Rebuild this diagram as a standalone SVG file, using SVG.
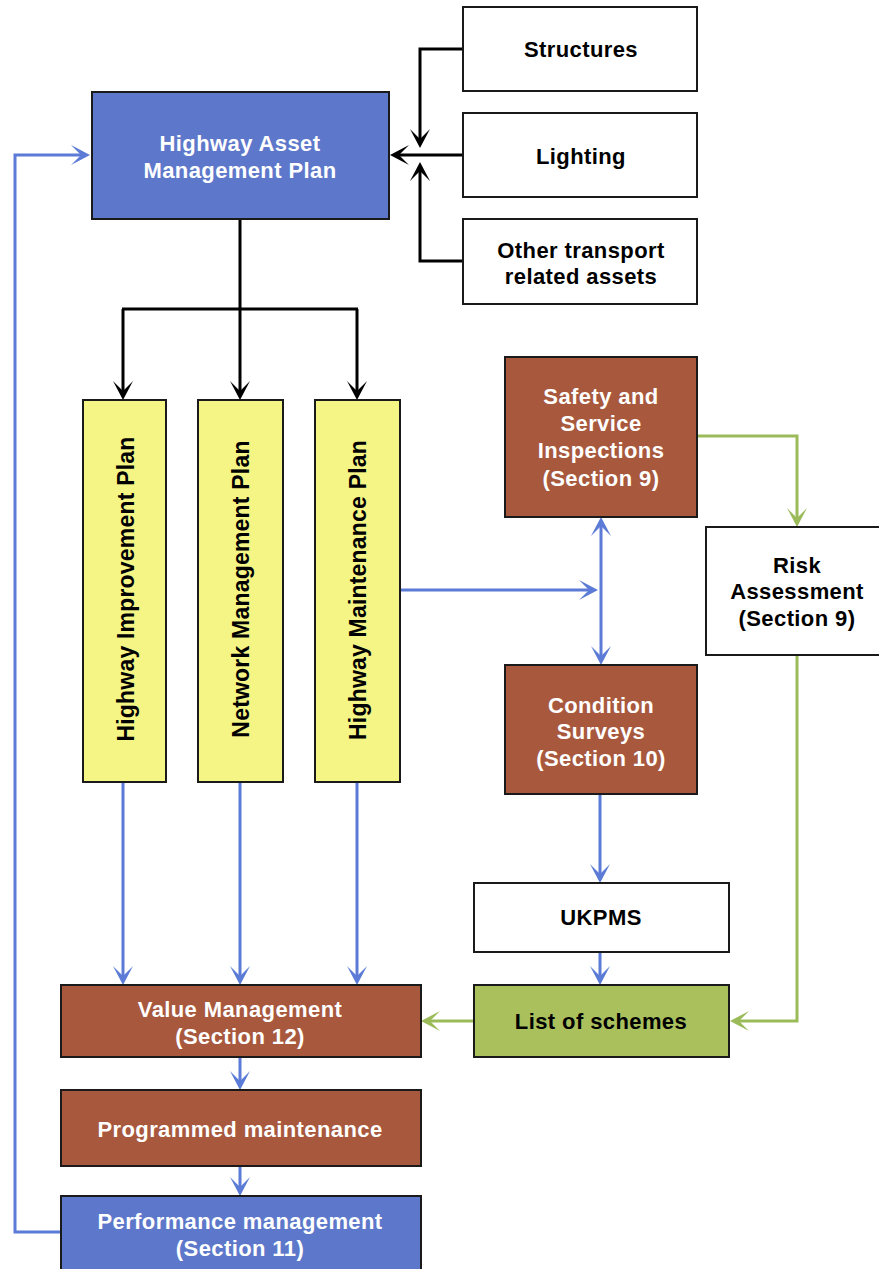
<svg xmlns="http://www.w3.org/2000/svg" width="879" height="1269" viewBox="0 0 879 1269">
<style>
  .box{stroke:#1a1a1a;stroke-width:2}
  .white{fill:#ffffff}
  .blue{fill:#5D78CA}
  .brown{fill:#A8583D}
  .yellow{fill:#F5F585}
  .green{fill:#A9C05D}
  text{font-family:"Liberation Sans",Arial,sans-serif;font-weight:bold;font-size:22px;text-anchor:middle;letter-spacing:0.4px}
  .lt{fill:#ffffff}
  .dk{fill:#000000}
  .vt{font-size:23px;letter-spacing:0.2px}
  .cb{fill:none;stroke:#000000;stroke-width:3}
  .cu{fill:none;stroke:#5B7BD6;stroke-width:3}
  .cg{fill:none;stroke:#9BBB59;stroke-width:3}
</style>
<defs>
  <marker id="ak" viewBox="-20 -11 20 22" refX="-6" refY="0" markerWidth="20" markerHeight="22" markerUnits="userSpaceOnUse" orient="auto-start-reverse">
    <path d="M0,0 L-19,-10 L-9,0 L-19,10 Z" fill="#000000"/>
  </marker>
  <marker id="au" viewBox="-20 -11 20 22" refX="-6" refY="0" markerWidth="20" markerHeight="22" markerUnits="userSpaceOnUse" orient="auto-start-reverse">
    <path d="M0,0 L-19,-10 L-9,0 L-19,10 Z" fill="#5B7BD6"/>
  </marker>
  <marker id="ag" viewBox="-20 -11 20 22" refX="-6" refY="0" markerWidth="20" markerHeight="22" markerUnits="userSpaceOnUse" orient="auto-start-reverse">
    <path d="M0,0 L-19,-10 L-9,0 L-19,10 Z" fill="#9BBB59"/>
  </marker>
</defs>
<rect width="879" height="1269" fill="#ffffff"/>

<g id="connectors">
  <path class="cb" d="M463,49 H420 V142" marker-end="url(#ak)"/>
  <path class="cb" d="M463,155 H396" marker-end="url(#ak)"/>
  <path class="cb" d="M463,261 H420 V168" marker-end="url(#ak)"/>
  <path class="cb" d="M240,219 V309 M122,309 H358"/>
  <path class="cb" d="M123,309 V394" marker-end="url(#ak)"/>
  <path class="cb" d="M240,309 V394" marker-end="url(#ak)"/>
  <path class="cb" d="M357,309 V394" marker-end="url(#ak)"/>

  <path class="cu" d="M123,782 V979" marker-end="url(#au)"/>
  <path class="cu" d="M240,782 V979" marker-end="url(#au)"/>
  <path class="cu" d="M357,782 V979" marker-end="url(#au)"/>
  <path class="cu" d="M400,590 H592" marker-end="url(#au)"/>
  <path class="cu" d="M601,523 V659" marker-start="url(#au)" marker-end="url(#au)"/>
  <path class="cu" d="M600,794 V877" marker-end="url(#au)"/>
  <path class="cu" d="M600,952 V979" marker-end="url(#au)"/>
  <path class="cu" d="M240,1057 V1084" marker-end="url(#au)"/>
  <path class="cu" d="M240,1166 V1190" marker-end="url(#au)"/>
  <path class="cu" d="M61,1232 H15 V155 H84" marker-end="url(#au)"/>

  <path class="cg" d="M697,436 H797 V521" marker-end="url(#ag)"/>
  <path class="cg" d="M797,655 V1021 H736" marker-end="url(#ag)"/>
  <path class="cg" d="M474,1021 H427" marker-end="url(#ag)"/>
</g>

<g id="hamp">
  <rect class="box blue" x="92" y="92" width="297" height="127"/>
  <text class="lt" x="240" y="151">Highway Asset</text>
  <text class="lt" x="240" y="178">Management Plan</text>
</g>
<g id="structures">
  <rect class="box white" x="463" y="7" width="234" height="84"/>
  <text class="dk" x="581" y="57">Structures</text>
</g>
<g id="lighting">
  <rect class="box white" x="463" y="113" width="234" height="84"/>
  <text class="dk" x="581" y="164">Lighting</text>
</g>
<g id="other-assets">
  <rect class="box white" x="463" y="219" width="234" height="85"/>
  <text class="dk" x="581" y="258">Other transport</text>
  <text class="dk" x="581" y="284">related assets</text>
</g>

<g id="improvement-plan">
  <rect class="box yellow" x="83" y="400" width="83" height="382"/>
  <text class="dk vt" transform="translate(134,589) rotate(-90)">Highway Improvement Plan</text>
</g>
<g id="network-plan">
  <rect class="box yellow" x="198" y="400" width="85" height="382"/>
  <text class="dk vt" transform="translate(249,589) rotate(-90)">Network Management Plan</text>
</g>
<g id="maintenance-plan">
  <rect class="box yellow" x="315" y="400" width="85" height="382"/>
  <text class="dk vt" transform="translate(366,590) rotate(-90)">Highway Maintenance Plan</text>
</g>

<g id="safety">
  <rect class="box brown" x="505" y="357" width="192" height="160"/>
  <text class="lt" x="601" y="404">Safety and</text>
  <text class="lt" x="601" y="431">Service</text>
  <text class="lt" x="601" y="458">Inspections</text>
  <text class="lt" x="601" y="486">(Section 9)</text>
</g>
<g id="risk">
  <rect class="box white" x="706" y="527" width="176" height="128"/>
  <text class="dk" x="797" y="573">Risk</text>
  <text class="dk" x="797" y="599">Assessment</text>
  <text class="dk" x="797" y="626">(Section 9)</text>
</g>
<g id="condition">
  <rect class="box brown" x="505" y="665" width="192" height="129"/>
  <text class="lt" x="601" y="713">Condition</text>
  <text class="lt" x="601" y="739">Surveys</text>
  <text class="lt" x="601" y="766">(Section 10)</text>
</g>
<g id="ukpms">
  <rect class="box white" x="474" y="883" width="255" height="69"/>
  <text class="dk" x="601" y="925">UKPMS</text>
</g>
<g id="schemes">
  <rect class="box green" x="474" y="985" width="255" height="72"/>
  <text class="dk" x="601" y="1029">List of schemes</text>
</g>
<g id="value">
  <rect class="box brown" x="61" y="985" width="360" height="72"/>
  <text class="lt" x="240" y="1017">Value Management</text>
  <text class="lt" x="240" y="1044">(Section 12)</text>
</g>
<g id="programmed">
  <rect class="box brown" x="61" y="1090" width="360" height="76"/>
  <text class="lt" x="240" y="1137">Programmed maintenance</text>
</g>
<g id="performance">
  <rect class="box blue" x="61" y="1196" width="360" height="80"/>
  <text class="lt" x="240" y="1229">Performance management</text>
  <text class="lt" x="240" y="1256">(Section 11)</text>
</g>
</svg>
